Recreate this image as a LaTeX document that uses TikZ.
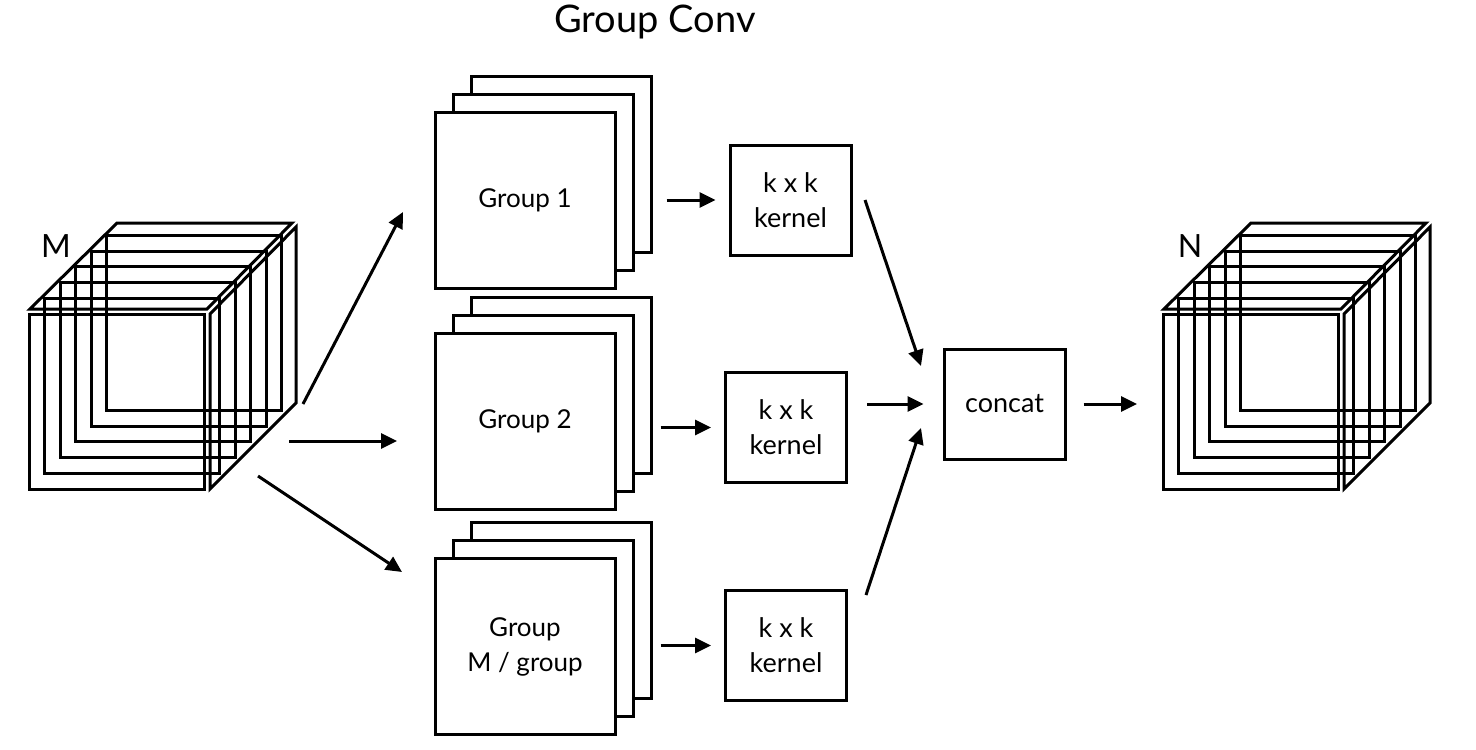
\documentclass[tikz,border=0pt]{standalone}
\usepackage{fontspec}
\setmainfont{Lato}
\usepackage{tikz}
\usetikzlibrary{
    arrows.meta,
    positioning,
    calc
}
\newcommand{\boxfont}{\fontsize{26}{35}\selectfont}
\newcommand{\opfont}{\fontsize{27}{35}\selectfont}
\newcommand{\headfont}{\fontsize{38}{44}\selectfont}
\newcommand{\labfont}{\fontsize{32}{36}\selectfont}

\begin{document}
\begin{tikzpicture}[
    x=1pt,y=-1pt,
    line width=3pt,
    plate/.style={
        draw,
        fill=white,
        minimum width=180pt,
        minimum height=176pt,
        inner sep=0pt,
        align=center,
        font=\boxfont
    },
    opbox/.style={
        draw,
        fill=white,
        minimum width=121pt,
        minimum height=110pt,
        inner sep=0pt,
        align=center,
        font=\opfont
    },
    flow/.style={
        -{Triangle[length=16pt,width=15pt]},
        line width=3pt
    }
]
%
    \useasboundingbox (0,0) rectangle (1476,750);
%
    \node[
        font=\headfont
    ] (title) at (655,22) {
        Group Conv
    };
%
    % input and output feature cubes
    \foreach \cx/\clab in {0/M,1134/N}{
        \begin{scope}[xshift=\cx]
            \foreach \i in {0,...,5}{
                \draw (29+15.5*\i,314-15.7*\i) rectangle ++(175,175);
            }
            \draw (30,309) -- (207,309) -- (292,223) -- (117,223) -- cycle;
            \draw (210,314) -- (296,227) -- (296,403) -- (210,489) -- cycle;
            \node[
                font=\labfont
            ] (cube-\clab) at (56,246) {\clab};
        \end{scope}
    }
%
    % plates behind each group
    \foreach \gy/\gname in {200/g1,421.5/g2,646.5/g3}{
        \node[plate] (\gname-back) at (561,\gy-36) {};
        \node[plate] (\gname-mid) at (543,\gy-18) {};
    }
    \node[plate] (g1) at (525,200) {Group 1};
    \node[plate] (g2) at (525,421.5) {Group 2};
    \node[plate] (g3) at (525,646.5) {Group\\M / group};
%
    \node[opbox] (k1) at (790.5,200) {k x k\\kernel};
    \node[opbox] (k2) at (786,427.5) {k x k\\kernel};
    \node[opbox] (k3) at (786,645.5) {k x k\\kernel};
    \node[opbox] (cc) at (1004.5,404) {concat};
%
    \coordinate (m-out1) at (303,404);
    \coordinate (m-out2) at (289,441);
    \coordinate (m-out3) at (258,476);
    \coordinate (g1-in) at (403,212);
    \coordinate (g2-in) at (397,441);
    \coordinate (g3-in) at (402,572);
    \coordinate (k1-out) at (865,200);
    \coordinate (k3-out) at (866,595);
    \coordinate (cc-in1) at (921,366);
    \coordinate (cc-in3) at (921,428);
    \coordinate (n-in) at (1137,404);
%
    \draw[flow] (m-out1) -- (g1-in);
    \draw[flow] (m-out2) -- (g2-in);
    \draw[flow] (m-out3) -- (g3-in);
%
    \draw[
        flow,
        shorten <=50pt,
        shorten >=13pt
    ] (g1.east) -- (k1.west);
    \draw[
        flow,
        shorten <=44pt,
        shorten >=13pt
    ] (g2.east |- k2.west) -- (k2.west);
    \draw[
        flow,
        shorten <=44pt,
        shorten >=13pt
    ] (g3.east |- k3.west) -- (k3.west);
%
    \draw[flow] (k1-out) -- (cc-in1);
    \draw[
        flow,
        shorten <=19pt,
        shorten >=19pt
    ] (k2.east |- cc.west) -- (cc.west);
    \draw[flow] (k3-out) -- (cc-in3);
    \draw[
        flow,
        shorten <=17pt
    ] (cc.east) -- (n-in);
%
\end{tikzpicture}
\end{document}
